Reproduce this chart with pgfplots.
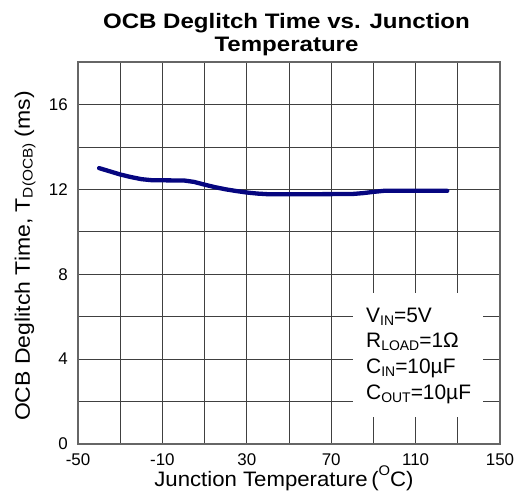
\documentclass[border=0pt]{standalone}
\usepackage{graphicx}
\usepackage{pgfplots}
\pgfplotsset{compat=1.18}
\usepackage{fontspec}
\setmainfont{Liberation Sans}
\definecolor{curve}{RGB}{6,6,128}
\newcommand\sub[1]{\raisebox{-0.12em}{\fontsize{14}{14}\selectfont #1}}
\newcommand\sups[1]{\raisebox{0.55em}{\fontsize{14}{14}\selectfont #1}}
\begin{document}
\begin{tikzpicture}
\begin{axis}[
  scale only axis, width=422bp, height=382bp,
  xmin=-50, xmax=150, ymin=0, ymax=18,
  xtick={-50,-30,...,150}, xticklabels={-50,,-10,,30,,70,,110,,150},
  ytick={0,2,...,18}, yticklabels={0,,4,,8,,12,,16,},
  major tick length=0pt,
  grid=major,
  grid style={black!75, line width=0.7bp},
  axis line style={black!60, line width=1.2bp},
  ticklabel style={font=\fontsize{17}{17}\selectfont},
  xticklabel style={anchor=base, inner sep=0pt, yshift=-21.5bp},
  yticklabel style={anchor=east, inner sep=0pt, xshift=-10bp},
]
\fill[white] (axis cs:80.3,1.27) rectangle (axis cs:142,7.12);
\addplot[curve, line width=4.3bp, line cap=round, line join=round] table {
-40 13.00
-35 12.85
-30 12.70
-25 12.58
-20 12.48
-15 12.43
-5 12.42
0 12.42
5 12.35
10 12.22
15 12.10
20 12.00
25 11.92
30 11.85
35 11.80
40 11.77
60 11.77
80 11.78
85 11.82
90 11.88
95 11.93
125 11.93
};
\end{axis}
\begin{scope}[every node/.style={font=\fontsize{21}{21}\selectfont, inner sep=0pt}]
\node[anchor=base west] at (288bp,121bp) {V\sub{IN}=5V};
\node[anchor=base west] at (288bp,96bp) {R\sub{LOAD}=1Ω};
\node[anchor=base west] at (288bp,70bp) {C\sub{IN}=10µF};
\node[anchor=base west] at (288bp,44bp) {C\sub{OUT}=10µF};
\node[anchor=base] at (206bp,-42.7bp) {\scalebox{1.06}[1]{Junction Temperature\,(\sups{O}C)}};
\node[anchor=base, rotate=90] at (-48bp,188bp) {\scalebox{1.1}[1]{OCB Deglitch Time, T\sub{D(OCB)} (ms)}};
\end{scope}
\node[anchor=base, inner sep=0pt, font=\bfseries\fontsize{21}{21}\selectfont] at (208.5bp,415.7bp) {\scalebox{1.15}[1]{OCB Deglitch Time vs. Junction}};
\node[anchor=base, inner sep=0pt, font=\bfseries\fontsize{21}{21}\selectfont] at (208.5bp,392.5bp) {\scalebox{1.15}[1]{Temperature}};
\pgfresetboundingbox
\path[use as bounding box] (-78bp,-49bp) rectangle (441bp,444bp);
\end{tikzpicture}
\end{document}
